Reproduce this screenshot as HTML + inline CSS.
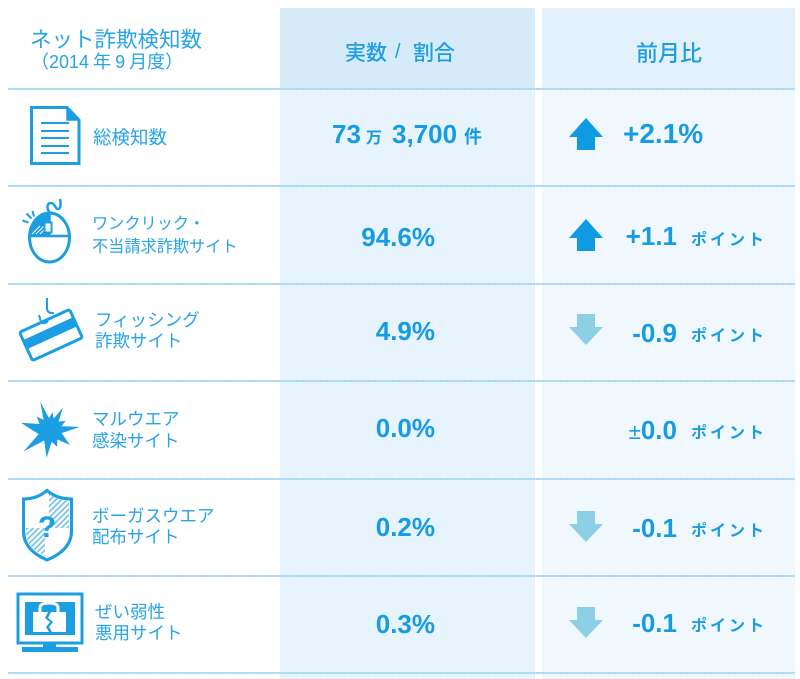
<!DOCTYPE html>
<html><head><meta charset="utf-8">
<style>
html,body{margin:0;padding:0;width:800px;height:679px;overflow:hidden;background:#fff}
body{position:relative;font-family:"Liberation Sans","Noto Sans CJK JP",sans-serif;color:#1b9de1}
.a{position:absolute;white-space:nowrap}
.bg{position:absolute}
.jp{font-family:"Noto Sans CJK JP","Liberation Sans",sans-serif;font-weight:400;color:#27a4e6}
.ln{position:absolute;left:8px;width:787px;height:2px;top:0;background:repeating-linear-gradient(90deg,#a6d8f4 0 2px,#bfe3f8 2px 3px)}
.num{font-family:"Liberation Sans",sans-serif;font-weight:bold;color:#179be2}
.pt{font-family:"Noto Sans CJK JP",sans-serif;font-weight:700;font-size:16px;letter-spacing:3px;color:#1b9de1}
svg{position:absolute;left:0;top:0}
</style></head><body>
<div class="bg" style="left:280px;top:8px;width:255px;height:81px;background:#d6ebfa"></div>
<div class="bg" style="left:280px;top:89px;width:255px;height:590px;background:#e7f3fd"></div>
<div class="bg" style="left:542px;top:8px;width:253px;height:81px;background:#e3f1fc"></div>
<div class="bg" style="left:542px;top:89px;width:253px;height:590px;background:#f0f8fe"></div>

<div class="ln" style="top:88px"></div>
<div class="ln" style="top:185px"></div>
<div class="ln" style="top:283px"></div>
<div class="ln" style="top:380px"></div>
<div class="ln" style="top:478px"></div>
<div class="ln" style="top:575px"></div>
<div class="ln" style="top:672px"></div>

<!-- header -->
<div class="a jp" style="left:30px;top:24px;font-size:21.5px;line-height:30px">ネット詐欺検知数</div>
<div class="a jp" style="left:31px;top:48px;font-size:18px;line-height:26px">（<span style="font-family:'Liberation Sans',sans-serif">2014</span> 年 <span style="font-family:'Liberation Sans',sans-serif">9</span> 月度）</div>

<div class="a jp" style="left:345px;top:37px;font-size:21px;line-height:30px;color:#1d9ee2;font-weight:500">実数</div>
<div class="a" style="left:395px;top:37px;font-size:20px;line-height:30px;color:#1d9ee2">/</div>
<div class="a jp" style="left:413px;top:37px;font-size:21px;line-height:30px;color:#1d9ee2;font-weight:500">割合</div>
<div class="a jp" style="left:636px;top:37px;font-size:22px;line-height:30px;color:#1d9ee2;font-weight:500">前月比</div>

<!-- labels -->
<div class="a jp" style="left:93px;top:122px;font-size:18.5px;line-height:30px">総検知数</div>
<div class="a jp" style="left:92px;top:209px;font-size:16.2px;line-height:26px">ワンクリック・</div>
<div class="a jp" style="left:92px;top:232px;font-size:16.2px;line-height:26px">不当請求詐欺サイト</div>
<div class="a jp" style="left:95px;top:307px;font-size:17.5px;line-height:26px">フィッシング</div>
<div class="a jp" style="left:95px;top:328px;font-size:17.5px;line-height:26px">詐欺サイト</div>
<div class="a jp" style="left:92px;top:406px;font-size:17.5px;line-height:26px">マルウエア</div>
<div class="a jp" style="left:92px;top:428px;font-size:17.5px;line-height:26px">感染サイト</div>
<div class="a jp" style="left:92px;top:503px;font-size:17.5px;line-height:26px">ボーガスウエア</div>
<div class="a jp" style="left:92px;top:524px;font-size:17.5px;line-height:26px">配布サイト</div>
<div class="a jp" style="left:95px;top:599px;font-size:17.5px;line-height:26px">ぜい弱性</div>
<div class="a jp" style="left:95px;top:620px;font-size:17.5px;line-height:26px">悪用サイト</div>

<!-- col2 values -->
<div class="a num" style="left:332px;top:119px;font-size:26px;line-height:30px">73</div>
<div class="a jp" style="left:366px;top:121px;font-size:16px;line-height:30px;color:#179be2;font-weight:700">万</div>
<div class="a num" style="left:392px;top:119px;font-size:26px;line-height:30px">3,700</div>
<div class="a jp" style="left:464px;top:121px;font-size:18px;line-height:30px;color:#179be2;font-weight:700">件</div>

<div class="a num" style="right:365px;top:222px;font-size:26px;line-height:30px">94.6%</div>
<div class="a num" style="right:365px;top:316px;font-size:26px;line-height:30px">4.9%</div>
<div class="a num" style="right:365px;top:413px;font-size:26px;line-height:30px">0.0%</div>
<div class="a num" style="right:365px;top:512px;font-size:26px;line-height:30px">0.2%</div>
<div class="a num" style="right:365px;top:609px;font-size:26px;line-height:30px">0.3%</div>

<!-- col3 values -->
<div class="a num" style="left:623px;top:118px;font-size:28px;line-height:32px">+2.1%</div>
<div class="a num" style="right:123px;top:221px;font-size:26px;line-height:30px">+1.1</div>
<div class="a pt" style="left:691px;top:225px;line-height:26px">ポイント</div>
<div class="a num" style="right:123px;top:318px;font-size:26px;line-height:30px">-0.9</div>
<div class="a pt" style="left:691px;top:321px;line-height:26px">ポイント</div>
<div class="a num" style="right:123px;top:415px;font-size:26px;line-height:30px"><span style="font-weight:normal;font-size:22px">±</span>0.0</div>
<div class="a pt" style="left:691px;top:418px;line-height:26px">ポイント</div>
<div class="a num" style="right:123px;top:513px;font-size:26px;line-height:30px">-0.1</div>
<div class="a pt" style="left:691px;top:516px;line-height:26px">ポイント</div>
<div class="a num" style="right:123px;top:608px;font-size:26px;line-height:30px">-0.1</div>
<div class="a pt" style="left:691px;top:611px;line-height:26px">ポイント</div>

<svg width="800" height="679" viewBox="0 0 800 679">
<defs>
<pattern id="h" width="4" height="4" patternUnits="userSpaceOnUse" patternTransform="rotate(45)">
<rect width="4" height="4" fill="#fff"/><rect width="1.6" height="4" fill="#6cc0ec"/>
</pattern>
</defs>
<!-- arrows -->
<g fill="#0f9be2">
<polygon points="569,137 586,118 603,137 595,137 595,150 577,150 577,137"/>
<polygon points="569,238 586,219 603,238 595,238 595,251 577,251 577,238"/>
</g>
<g fill="#8dcfe4">
<polygon points="577,314 595,314 595,327 603,327 586,345 569,327 577,327"/>
<polygon points="577,511 595,511 595,524 603,524 586,542 569,524 577,524"/>
<polygon points="577,607 595,607 595,620 603,620 586,638 569,620 577,620"/>
</g>

<g stroke="#1c9ee2" fill="none" stroke-width="3">
<!-- doc -->
<path d="M31.5,107.5 L67,107.5 L79,120 L79,163.5 L31.5,163.5 Z" fill="#fff"/>
<polygon points="67,107.5 67,120 79,120" fill="#1c9ee2" stroke-width="1.5"/>
<g stroke-width="2"><line x1="41" y1="123" x2="69" y2="123"/><line x1="41" y1="131" x2="69" y2="131"/><line x1="41" y1="138" x2="69" y2="138"/><line x1="41" y1="146" x2="69" y2="146"/><line x1="41" y1="153" x2="69" y2="153"/></g>

<!-- mouse -->
<path d="M49.5,213 A20,24.5 0 0 0 29.5,236 L49.5,236 Z" fill="#1c9ee2" stroke="none"/>
<g stroke="#fff" stroke-width="1"><line x1="32" y1="234" x2="40" y2="226"/><line x1="36" y1="234" x2="44" y2="226"/><line x1="40" y1="234" x2="46" y2="228"/></g>
<ellipse cx="49.5" cy="237.5" rx="20" ry="24.5"/>
<line x1="29.5" y1="236" x2="69.5" y2="236" stroke-width="2.5"/>
<line x1="49.5" y1="213" x2="49.5" y2="236" stroke-width="2.5"/>
<rect x="44.5" y="222.5" width="7" height="10" fill="#fff" stroke-width="2"/>
<path d="M50,213 C46,208 47,203 51,203 C55,203 55,209 58,209 C61,209 61,203 60,199" stroke-width="2.5"/>
<g stroke-width="2"><line x1="22.5" y1="220.5" x2="28.5" y2="222.5"/><line x1="26.5" y1="213.5" x2="31.5" y2="218.5"/><line x1="32.5" y1="211" x2="34" y2="216.5"/></g>

<!-- card -->
<g transform="translate(51,335) rotate(-24.6)">
<rect x="-27.5" y="-15.5" width="55" height="31" rx="2" fill="#fff"/>
<rect x="-27.5" y="-7" width="55" height="10" fill="#1c9ee2" stroke="none"/>
</g>
<path d="M47,298 L47,309 Q48,314 54,313" stroke-width="2"/>
<path d="M39,315 L41,322 Q44,325 48,321" stroke-width="2"/>

<!-- shield -->
<path d="M23.5,499 Q37,499 47,490.5 Q57,499 71.5,499 L71.5,531 Q71.5,550 47,560 Q23.5,550 23.5,531 Z" fill="#fff"/>
<path d="M49,494 Q58,500 69,501 L69,528 L49,528 Z" fill="url(#h)" stroke="none"/>
<path d="M26,528 L45,528 L45,556 Q26,548 26,532 Z" fill="url(#h)" stroke="none"/>
<path d="M23.5,499 Q37,499 47,490.5 Q57,499 71.5,499 L71.5,531 Q71.5,550 47,560 Q23.5,550 23.5,531 Z"/>

<!-- monitor -->
<rect x="18" y="594" width="64" height="49" fill="#fff"/>
<rect x="25" y="602" width="50" height="33" fill="#1c9ee2" stroke="none"/>
<rect x="43" y="643" width="13" height="4" fill="#1c9ee2" stroke="none"/>
<rect x="22" y="647" width="56" height="5" fill="#1c9ee2" stroke="none"/>
</g>
<!-- lock -->
<path d="M40,613 L40,608 Q40,603 49,603 Q58,603 58,608 L58,613" fill="none" stroke="#fff" stroke-width="3"/>
<path d="M33,612 L48,612 L45,618 L50,622 L46,627 L49,632 L33,632 Z" fill="#fff"/>
<path d="M51,612 L66,612 L66,632 L52,632 L49,627 L53,622 L48,618 Z" fill="#fff"/>
<!-- star -->
<polygon fill="#1c9ee2" points="20.9,422.7 39.6,424 36.6,416.6 43.6,419.8 40.2,401.6 49,418 52.5,412.2 53.7,418.6 63,407.5 58.5,421.5 65.6,421 61.4,426.3 79.8,426.9 61.6,433.1 70,445 57.4,439.5 57,446.6 51.7,441.9 46.6,457.8 44.2,440.5 23.6,451.4 38.7,434.1"/>
<text x="47" y="537" text-anchor="middle" font-family="Liberation Sans,sans-serif" font-weight="bold" font-size="30" fill="#1c9ee2">?</text>
</svg>
</body></html>
